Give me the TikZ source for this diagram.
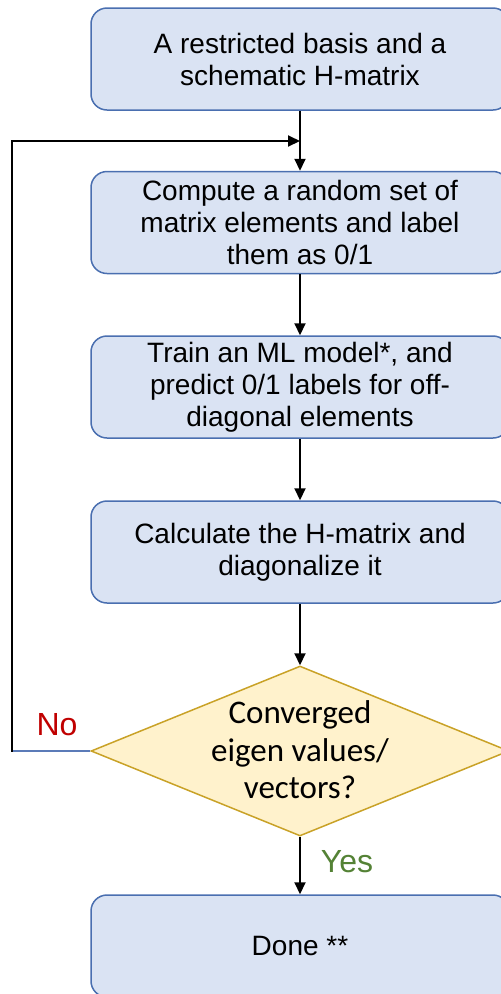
\documentclass[tikz,border=0pt]{standalone}
\usepackage{fontspec}
\setmainfont{Liberation Sans}
\newfontfamily\calfont{Carlito}
\usetikzlibrary{shapes.geometric,arrows.meta}
\definecolor{boxfill}{HTML}{DAE3F3}
\definecolor{boxline}{HTML}{4A6FB0}
\definecolor{decfill}{HTML}{FFF2CC}
\definecolor{decline}{HTML}{C9A227}
\definecolor{noRed}{HTML}{C00000}
\definecolor{yesGreen}{HTML}{548235}
\definecolor{loopBlue}{HTML}{5B7BB8}
\tikzset{
  stepbox/.style={draw=boxline, fill=boxfill, line width=1.5pt, rounded corners=16pt,
    minimum width=418pt, minimum height=102pt, inner sep=0pt, align=center,
    font=\fontsize{28}{32}\selectfont},
  decbox/.style={diamond, draw=decline, fill=decfill, line width=1.5pt,
    minimum width=418pt, minimum height=170pt, inner sep=0pt, aspect=2.46},
  flow/.style={line width=2pt, -{Triangle[length=12pt,width=11pt]}},
}
\begin{document}
\begin{tikzpicture}[x=1pt,y=-1pt]
\useasboundingbox (0,0) rectangle (501,994);
\clip (0,0) rectangle (501,994);
\node[stepbox] (b1) at (300,59) {A restricted basis and a\\schematic H-matrix};
\node[stepbox] (b2) at (300,222.5) {Compute a random set of\\matrix elements and label\\them as 0/1};
\node[stepbox] (b3) at (300,387) {Train an ML model*, and\\predict 0/1 labels for off-\\diagonal elements};
\node[stepbox] (b4) at (300,552) {Calculate the H-matrix and\\diagonalize it};
\node[decbox] (dec) at (300,751) {};
\node[align=center, font=\calfont\fontsize{33}{37.5}\selectfont] (dectext) at (300,750) {Converged\\eigen values/\\vectors?};
\node[stepbox] (b5) at (300,946) {Done **};
\coordinate (fb1) at (12,751);
\coordinate (fb2) at (12,141);
\coordinate (fb3) at (300,141);
\draw[flow] (b1.south) -- (b2.north);
\draw[flow] (b2.south) -- (b3.north);
\draw[flow] (b3.south) -- (b4.north);
\draw[flow] (b4.south) -- (dec.north);
\draw[flow] (dec.south) -- (b5.north);
\draw[line width=2pt, loopBlue] (dec.west) -- (fb1);
\draw[flow, line cap=rect] (fb1) -- (fb2) -- (fb3);
\node[text=noRed, font=\fontsize{32}{36}\selectfont, anchor=base] (no) at (57,735) {No};
\node[text=yesGreen, font=\fontsize{32}{36}\selectfont, anchor=base] (yes) at (347,872) {Yes};
\end{tikzpicture}
\end{document}
